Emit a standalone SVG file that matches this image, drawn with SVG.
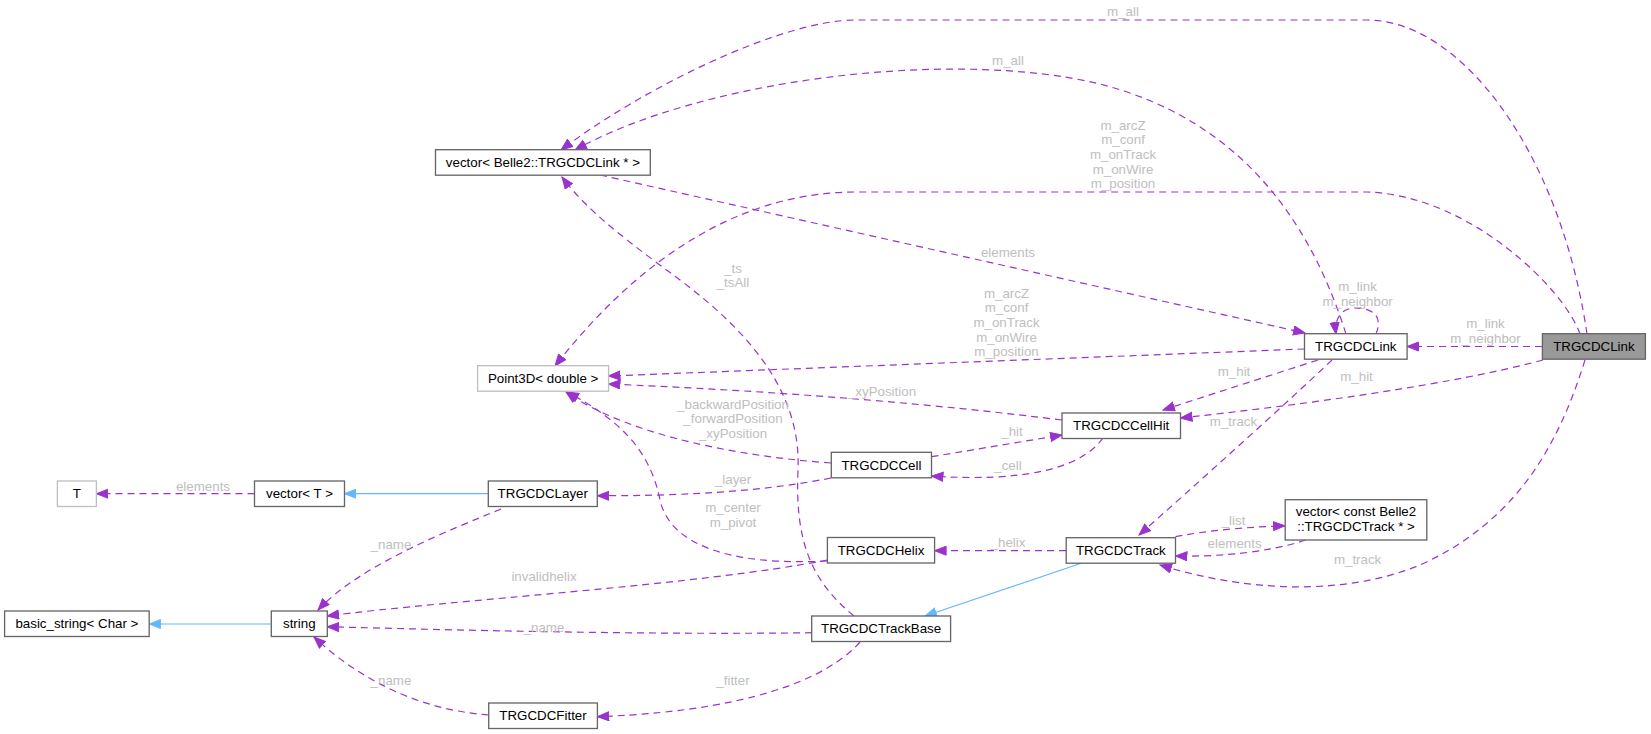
<svg xmlns="http://www.w3.org/2000/svg" width="1651" height="734" viewBox="0 0 1651 734">
<style>
.n rect{fill:#fff;stroke:#666;stroke-width:1.33}
.n.g rect{stroke:#bfbfbf}
.n.m rect{fill:#999;stroke:#666}
.n text{font-family:"Liberation Sans",Arial,sans-serif;font-size:13.33px;fill:#000;text-anchor:middle}
.e path{fill:none;stroke:#9a32cd;stroke-width:1.2;stroke-dasharray:7,5}
.e path.i{stroke:#63b8ff;stroke-dasharray:none}
.l text{font-family:"Liberation Sans",Arial,sans-serif;font-size:13.33px;fill:#bebebe;text-anchor:middle}
</style>
<defs>
<marker id="a" markerUnits="userSpaceOnUse" markerWidth="14" markerHeight="12" refX="12" refY="5" orient="auto"><path d="M0.5,0.5 L12,5 L0.5,9.5 z" fill="#9a32cd" stroke="#9a32cd"/></marker>
<marker id="b" markerUnits="userSpaceOnUse" markerWidth="14" markerHeight="12" refX="12" refY="5" orient="auto"><path d="M0.5,0.5 L12,5 L0.5,9.5 z" fill="#63b8ff" stroke="#63b8ff"/></marker>
</defs>
<rect width="1651" height="734" fill="#fff"/>
<g class="e" id="edges">
<path marker-end="url(#a)" d="M1587,334 C1560,150 1460,20 1367,20 L856,20 C780,20 640,90 561,150"/>
<path marker-end="url(#a)" d="M1346,334 C1310,220 1240,120 1100,84 C950,48 700,80 575,150"/>
<path marker-end="url(#a)" d="M1580,334 C1565,290 1470,195 1367,192 L856,192 C730,192 630,270 555,366"/>
<path marker-end="url(#a)" d="M1542,346.5 L1407,346.5"/>
<path marker-end="url(#a)" d="M1543,360 C1450,385 1300,405 1180.5,418"/>
<path marker-end="url(#a)" d="M1585,360 C1560,440 1520,520 1420,565 C1340,598 1240,590 1160,565"/>
<path marker-end="url(#a)" d="M1376,334 C1384,314 1370,308 1355,308 C1342,308 1334,318 1336,334"/>
<path marker-end="url(#a)" d="M600,175 L1305,333"/>
<path marker-end="url(#a)" d="M1304.5,349 L608.5,376"/>
<path marker-end="url(#a)" d="M1318,360 L1163,410"/>
<path marker-end="url(#a)" d="M1332,360 C1290,400 1190,490 1139,535"/>
<path marker-end="url(#a)" d="M1062,420 C900,400 750,390 608.5,384"/>
<path marker-end="url(#a)" d="M1103,438 C1080,470 1020,482 931.5,476"/>
<path marker-end="url(#a)" d="M931.5,456.7 L1062,435"/>
<path marker-end="url(#a)" d="M831,463 C720,455 620,430 566,392"/>
<path marker-end="url(#a)" d="M831,478 C760,492 680,496 597.4,495.7"/>
<path class="i" marker-end="url(#b)" d="M488,493.7 L344.4,493.7"/>
<path marker-end="url(#a)" d="M501,509 C450,530 360,565 318,610"/>
<path marker-end="url(#a)" d="M254.5,493.7 L96.4,493.7"/>
<path class="i" marker-end="url(#b)" d="M271.3,624 L149.2,624"/>
<path marker-end="url(#a)" d="M827,561 C730,566 670,545 660,500 C650,450 620,420 567,392"/>
<path marker-end="url(#a)" d="M827.4,560 C700,585 450,600 327.2,616"/>
<path marker-end="url(#a)" d="M854,616 C810,580 795,540 798,470 C801,400 760,340 680,280 C640,250 590,215 562,177"/>
<path marker-end="url(#a)" d="M812,632.7 C650,635 450,630 327.2,626.7"/>
<path marker-end="url(#a)" d="M860,642 C840,665 780,710 597.4,716.7"/>
<path marker-end="url(#a)" d="M488.7,715 C420,710 360,680 314,637"/>
<path marker-end="url(#a)" d="M1066,550.7 L934.6,550.7"/>
<path class="i" marker-end="url(#b)" d="M1082,563 L925,616"/>
<path marker-end="url(#a)" d="M1175.5,536.7 C1210,530 1250,527 1285,525.7"/>
<path marker-end="url(#a)" d="M1305.6,540 C1270,552 1220,557 1175.5,556"/>
</g>
<g class="l" id="labels">
<text x="1123" y="16">m_all</text>
<text x="1008" y="64.5">m_all</text>
<text x="1123" y="129.5">m_arcZ</text>
<text x="1123" y="144.2">m_conf</text>
<text x="1123" y="158.9">m_onTrack</text>
<text x="1123" y="173.6">m_onWire</text>
<text x="1123" y="188.3">m_position</text>
<text x="1008" y="256.5">elements</text>
<text x="733" y="272.5">_ts</text>
<text x="733" y="287">_tsAll</text>
<text x="1006.5" y="297.5">m_arcZ</text>
<text x="1006.5" y="312.2">m_conf</text>
<text x="1006.5" y="326.9">m_onTrack</text>
<text x="1006.5" y="341.6">m_onWire</text>
<text x="1006.5" y="356.3">m_position</text>
<text x="1357.6" y="291">m_link</text>
<text x="1357.6" y="306">m_neighbor</text>
<text x="1485.5" y="327.5">m_link</text>
<text x="1485.5" y="342.5">m_neighbor</text>
<text x="1234" y="376">m_hit</text>
<text x="1356.5" y="381">m_hit</text>
<text x="882" y="396">_xyPosition</text>
<text x="733" y="408.5">_backwardPosition</text>
<text x="733" y="423">_forwardPosition</text>
<text x="733" y="437.5">_xyPosition</text>
<text x="1233.5" y="425.5">m_track</text>
<text x="1012" y="436">_hit</text>
<text x="1008" y="469.5">_cell</text>
<text x="733" y="483.5">_layer</text>
<text x="203" y="491">elements</text>
<text x="733" y="512">m_center</text>
<text x="733" y="527">m_pivot</text>
<text x="391" y="548.5">_name</text>
<text x="1233.5" y="525">_list</text>
<text x="1008" y="546.8">_helix</text>
<text x="1234.6" y="547.8">elements</text>
<text x="1357.6" y="563.5">m_track</text>
<text x="544" y="580.5">invalidhelix</text>
<text x="544" y="632">_name</text>
<text x="391" y="684.5">_name</text>
<text x="733" y="684.5">_fitter</text>
</g>
<g class="n m" id="node-main"><rect x="1542.4" y="333.7" width="103" height="25.5"/><text x="1593.9" y="351">TRGCDCLink</text></g>
<g class="n" id="node-link"><rect x="1304.5" y="333.7" width="102.6" height="25.5"/><text x="1355.8" y="351">TRGCDCLink</text></g>
<g class="n" id="node-vlink"><rect x="435.5" y="149.7" width="214.8" height="25.5"/><text x="542.9" y="167">vector&lt; Belle2::TRGCDCLink * &gt;</text></g>
<g class="n g" id="node-point3d"><rect x="477.6" y="365.7" width="131" height="25.5"/><text x="543.1" y="383">Point3D&lt; double &gt;</text></g>
<g class="n g" id="node-t"><rect x="57.4" y="481" width="39" height="25.5"/><text x="76.9" y="498.3">T</text></g>
<g class="n" id="node-vt"><rect x="254.5" y="481" width="90" height="25.5"/><text x="299.5" y="498.3">vector&lt; T &gt;</text></g>
<g class="n" id="node-layer"><rect x="488.3" y="481" width="109" height="25.5"/><text x="542.8" y="498.3">TRGCDCLayer</text></g>
<g class="n" id="node-bstring"><rect x="4.6" y="611" width="144.6" height="25.5"/><text x="76.9" y="628.3">basic_string&lt; Char &gt;</text></g>
<g class="n" id="node-string"><rect x="271.3" y="611" width="56" height="25.5"/><text x="299.3" y="628.3">string</text></g>
<g class="n" id="node-fitter"><rect x="488.7" y="703" width="108.7" height="25.5"/><text x="543" y="720.3">TRGCDCFitter</text></g>
<g class="n" id="node-helix"><rect x="827.4" y="537.5" width="107.2" height="25.5"/><text x="881" y="554.8">TRGCDCHelix</text></g>
<g class="n" id="node-trackbase"><rect x="811.7" y="616" width="138.9" height="25.5"/><text x="881.1" y="633.3">TRGCDCTrackBase</text></g>
<g class="n" id="node-track"><rect x="1066.2" y="537.7" width="109.3" height="25.5"/><text x="1120.8" y="555">TRGCDCTrack</text></g>
<g class="n" id="node-vtrack"><rect x="1285.2" y="499.7" width="141.6" height="40.3"/><text x="1356" y="516">vector&lt; const Belle2</text><text x="1356" y="531">::TRGCDCTrack * &gt;</text></g>
<g class="n" id="node-cell"><rect x="831.3" y="452.3" width="100.2" height="25.5"/><text x="881.4" y="469.6">TRGCDCCell</text></g>
<g class="n" id="node-cellhit"><rect x="1062" y="413" width="118.5" height="25.5"/><text x="1121.2" y="430.3">TRGCDCCellHit</text></g>
</svg>
